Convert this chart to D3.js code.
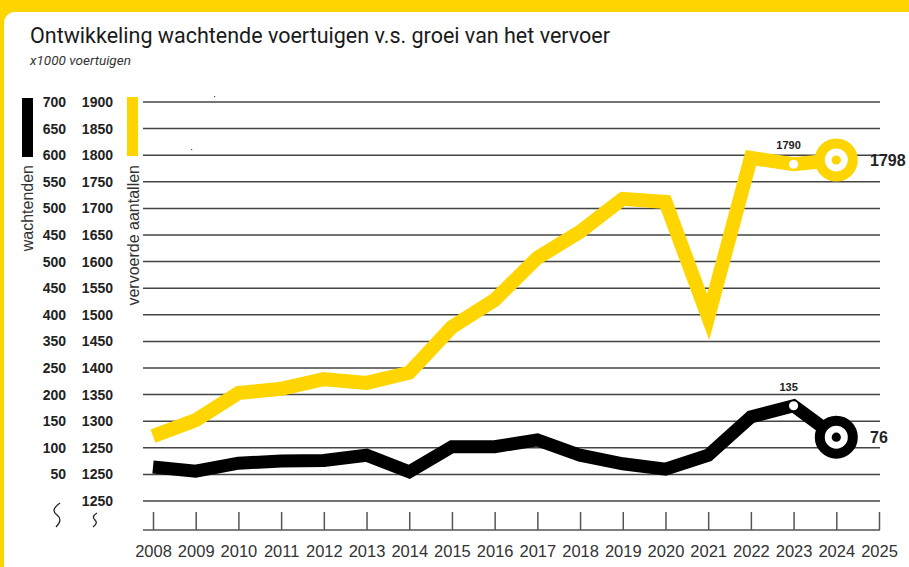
<!DOCTYPE html>
<html>
<head>
<meta charset="utf-8">
<script src="https://cdn.jsdelivr.net/npm/d3@7"></script>
<style>
  body { margin: 0; background: #ffd500; }
  svg { display: block; }
  .title { font-family: Roboto, "Noto Sans", sans-serif; font-size: 21.5px; fill: #1a1a1a; }
  .subtitle { font-family: Roboto, sans-serif; font-size: 13.5px; font-style: italic; fill: #333; }
  .ylabel { font-family: "Liberation Sans", Arial, sans-serif; font-size: 14px; font-weight: bold; fill: #222; }
  .vlabel { font-family: "Liberation Sans", Arial, sans-serif; font-size: 16px; fill: #333; }
  .x-axis text { font-family: "Liberation Sans", Arial, sans-serif; font-size: 16.5px; fill: #333; }
  .x-axis line { stroke: #555; stroke-width: 1.5; }
  .grid { stroke: #444; stroke-width: 1.5; }
  .val { font-family: "Liberation Sans", Arial, sans-serif; font-weight: bold; fill: #222; }
</style>
</head>
<body>
<div id="chart"></div>
<script>
const width = 909;
const height = 567;

// data
const years = [2008, 2009, 2010, 2011, 2012, 2013, 2014, 2015, 2016, 2017, 2018, 2019, 2020, 2021, 2022, 2023, 2024];
const axisYears = [2008, 2009, 2010, 2011, 2012, 2013, 2014, 2015, 2016, 2017, 2018, 2019, 2020, 2021, 2022, 2023, 2024, 2025];
const vervoerd = [1279, 1309, 1360, 1368, 1386, 1379, 1398, 1484, 1535, 1614, 1663, 1725, 1719, 1503, 1802, 1790, 1798];
const wachtend = [20, 12, 27, 31, 32, 42, 11, 58, 58, 71, 42, 26, 16, 42, 114, 135, 76];

// the tick labels as printed (they repeat in the original)
const leftTicks = ['700', '650', '600', '550', '500', '450', '500', '450', '400', '350', '250', '200', '150', '100', '50', ''];
const rightTicks = ['1900', '1850', '1800', '1750', '1700', '1650', '1600', '1550', '1500', '1450', '1400', '1350', '1300', '1250', '1250', '1250'];

// annotated values
const markedYear = 2023;
const lastYear = 2024;

const yellow = '#ffd500';
const black = '#000';

const plotTop = 102;
const plotBottom = 501;
const gridLeft = 143;
const gridRight = 880;
const axisY = 530;

let svg = d3.select('#chart').append('svg')
  .attr('width', width)
  .attr('height', height)

svg.append('rect')
  .attr('width', width)
  .attr('height', height)
  .attr('fill', yellow)

svg.append('rect')
  .attr('x', 4)
  .attr('y', 12)
  .attr('width', width + 20)
  .attr('height', height + 20)
  .attr('rx', 11)
  .attr('fill', '#fff')

svg.append('text')
  .classed('title', true)
  .attr('x', 30)
  .attr('y', 43)
  .text('Ontwikkeling wachtende voertuigen v.s. groei van het vervoer')

svg.append('text')
  .classed('subtitle', true)
  .attr('x', 30)
  .attr('y', 65)
  .text('x1000 voertuigen')

let x = d3.scaleLinear()
  .domain([2008, 2025])
  .range([153, 879])

let row = d3.scalePoint()
  .domain(d3.range(leftTicks.length))
  .range([plotTop, plotBottom])

// the two series each get their own scale; 50 units per gridline
let yVervoerd = d3.scaleLinear()
  .domain([1157, 1907])
  .range([plotBottom, plotTop])

let yWachtend = d3.scaleLinear()
  .domain([-44, 706])
  .range([plotBottom, plotTop])

// gridlines
svg.append('g').selectAll('line')
  .data(leftTicks)
  .join('line')
    .classed('grid', true)
    .attr('x1', gridLeft)
    .attr('x2', gridRight)
    .attr('y1', (d, i) => row(i))
    .attr('y2', (d, i) => row(i))

// y labels
svg.append('g').selectAll('text')
  .data(leftTicks)
  .join('text')
    .classed('ylabel', true)
    .attr('x', 66)
    .attr('y', (d, i) => row(i) + 5)
    .attr('text-anchor', 'end')
    .text(d => d)

svg.append('g').selectAll('text')
  .data(rightTicks)
  .join('text')
    .classed('ylabel', true)
    .attr('x', 113)
    .attr('y', (d, i) => row(i) + 5)
    .attr('text-anchor', 'end')
    .text(d => d)

// legend bars + axis names
svg.append('rect').attr('x', 22).attr('y', 98).attr('width', 11).attr('height', 59).attr('fill', black)
svg.append('rect').attr('x', 127).attr('y', 97).attr('width', 11).attr('height', 59).attr('fill', yellow)

svg.append('text')
  .classed('vlabel', true)
  .attr('transform', 'translate(33, 165) rotate(-90)')
  .attr('text-anchor', 'end')
  .text('wachtenden')

svg.append('text')
  .classed('vlabel', true)
  .attr('transform', 'translate(138.5, 165) rotate(-90)')
  .attr('text-anchor', 'end')
  .text('vervoerde aantallen')

// axis break marks
svg.append('path')
  .attr('d', 'M60,503 C52,509 53,512 57,515 S61,522 56,527')
  .attr('fill', 'none')
  .attr('stroke', '#222')
  .attr('stroke-width', 1.3)

svg.append('path')
  .attr('d', 'M97,513 C92,516 93,518 95,520 S97,524 93,527')
  .attr('fill', 'none')
  .attr('stroke', '#222')
  .attr('stroke-width', 1.3)

// little specks in the original
svg.append('rect').attr('x', 214).attr('y', 96).attr('width', 1.2).attr('height', 1.2).attr('fill', '#555')
svg.append('rect').attr('x', 191).attr('y', 149).attr('width', 1.2).attr('height', 1.2).attr('fill', '#555')

// x axis
let xAxis = d3.axisBottom(x)
  .tickValues(axisYears)
  .tickFormat(d3.format('d'))
  .tickSizeOuter(0)

let axisG = svg.append('g')
  .classed('x-axis', true)
  .attr('transform', `translate(0, ${axisY})`)
  .call(xAxis)

axisG.select('.domain').remove()
axisG.selectAll('.tick line').attr('y2', -18)
axisG.selectAll('.tick text').attr('y', 15).attr('dy', '0.71em')

svg.append('line')
  .attr('x1', gridLeft)
  .attr('x2', gridRight)
  .attr('y1', axisY)
  .attr('y2', axisY)
  .attr('stroke', '#555')
  .attr('stroke-width', 1.5)

// lines
let yellowLine = d3.line()
  .x((d, i) => x(years[i]))
  .y(d => yVervoerd(d))

let blackLine = d3.line()
  .x((d, i) => x(years[i]))
  .y(d => yWachtend(d))

svg.append('path')
  .datum(vervoerd)
  .attr('d', yellowLine)
  .attr('fill', 'none')
  .attr('stroke', yellow)
  .attr('stroke-width', 14)
  .attr('stroke-linejoin', 'miter')
  .attr('stroke-miterlimit', 10)

svg.append('path')
  .datum(wachtend)
  .attr('d', blackLine)
  .attr('fill', 'none')
  .attr('stroke', black)
  .attr('stroke-width', 13)
  .attr('stroke-linejoin', 'miter')
  .attr('stroke-miterlimit', 10)

// markers
let series = [
  {values: vervoerd, y: yVervoerd, color: yellow},
  {values: wachtend, y: yWachtend, color: black}
]

series.forEach(s => {
  let iMark = years.indexOf(markedYear);
  let iLast = years.indexOf(lastYear);
  let mv = s.values[iMark];
  let lv = s.values[iLast];

  svg.append('circle')
    .attr('cx', x(markedYear))
    .attr('cy', s.y(mv))
    .attr('r', 4.6)
    .attr('fill', '#fff')

  svg.append('circle')
    .attr('cx', x(lastYear))
    .attr('cy', s.y(lv))
    .attr('r', 16.5)
    .attr('fill', '#fff')
    .attr('stroke', s.color)
    .attr('stroke-width', 10)

  svg.append('circle')
    .attr('cx', x(lastYear))
    .attr('cy', s.y(lv))
    .attr('r', 4.6)
    .attr('fill', s.color)

  svg.append('text')
    .classed('val', true)
    .attr('x', x(markedYear) - 5)
    .attr('y', s.y(mv) - 15)
    .attr('text-anchor', 'middle')
    .style('font-size', '11px')
    .text(mv)

  svg.append('text')
    .classed('val', true)
    .attr('x', 870)
    .attr('y', s.y(lv) + 6)
    .style('font-size', '16px')
    .text(lv)
})
</script>
</body>
</html>
